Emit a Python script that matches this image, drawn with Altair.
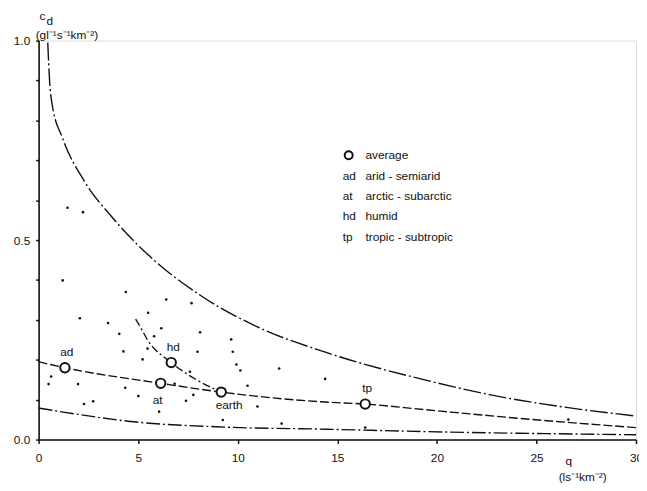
import altair as alt
import pandas as pd

# ---- data ----
upper_q = [0.46, 0.55, 0.68, 1.2, 2.28, 3.68, 5.5, 8.23, 10.96, 14.4, 19.6, 22.7, 26.3, 30.0]
upper_c = [0.995, 0.90, 0.84, 0.756, 0.649, 0.558, 0.463, 0.358, 0.283, 0.219, 0.147, 0.112, 0.082, 0.059]

mid_q = [0.0, 1.32, 6.13, 9.17, 14.4, 16.4, 19.4, 25.1, 30.0]
mid_c = [0.195, 0.180, 0.141, 0.119, 0.094, 0.089, 0.075, 0.049, 0.030]

low_q = [0.0, 2.0, 4.5, 9.5, 14.4, 19.4, 30.0]
low_c = [0.079, 0.063, 0.046, 0.031, 0.026, 0.020, 0.012]

hd_q = [4.87, 5.17, 5.42, 6.66, 7.82, 9.17]
hd_c = [0.302, 0.277, 0.254, 0.193, 0.153, 0.119]

avg_names = ["ad", "at", "hd", "earth", "tp"]
avg_q = [1.32, 6.13, 6.66, 9.17, 16.4]
avg_c = [0.180, 0.141, 0.193, 0.119, 0.089]

dots_q = [1.21, 4.38, 6.41, 7.68, 5.50, 2.07, 3.49, 6.16, 4.05, 5.80, 8.11, 9.67, 5.47, 4.26,
          7.98, 9.75, 5.22, 9.93, 10.13, 12.08, 14.39, 7.60, 0.63, 0.50, 1.98, 4.35, 6.83, 10.49,
          5.01, 7.77, 7.40, 2.74, 2.28, 10.99, 6.05, 9.25, 12.2, 1.45, 2.23, 26.6, 16.4]
dots_c = [0.399, 0.370, 0.351, 0.342, 0.318, 0.304, 0.292, 0.279, 0.265, 0.259, 0.269, 0.251, 0.228, 0.221,
          0.220, 0.220, 0.201, 0.188, 0.173, 0.178, 0.152, 0.170, 0.158, 0.139, 0.139, 0.130, 0.140, 0.135,
          0.109, 0.112, 0.097, 0.096, 0.089, 0.083, 0.070, 0.049, 0.040, 0.581, 0.570, 0.050, 0.030]

legend_codes = ["ad", "at", "hd", "tp"]
legend_names = ["arid - semiarid", "arctic - subarctic", "humid", "tropic - subtropic"]

x_ticks = [0, 5, 10, 15, 20, 25, 30]
y_ticks = [0.0, 0.1, 0.2, 0.3, 0.4, 0.5, 0.6, 0.7, 0.8, 0.9, 1.0]

FONT = "Liberation Sans"
INK = "#111111"

x_enc = alt.X("q:Q", title=None,
              scale=alt.Scale(domain=[0, 30], nice=False, zero=False),
              axis=alt.Axis(values=x_ticks, format="d", grid=False, domainColor=INK, domainWidth=1.6,
                            tickColor=INK, tickWidth=1.5, tickSize=4, labelFontSize=12,
                            labelFont=FONT, labelColor=INK, labelPadding=9, labelFlush=False))
y_enc = alt.Y("c:Q", title=None,
              scale=alt.Scale(domain=[0, 1], nice=False, zero=False),
              axis=alt.Axis(values=y_ticks, grid=False, domainColor=INK, domainWidth=1.6,
                            tickColor=INK, tickWidth=1.5, tickSize=3, labelFontSize=12,
                            labelFont=FONT, labelColor=INK, labelPadding=6,
                            labelExpr="(datum.value == 0 || datum.value == 0.5 || datum.value == 1) ? format(datum.value, '.1f') : ''"))

def curve(qs, cs, dash):
    df = pd.DataFrame({"q": qs, "c": cs, "i": list(range(len(qs)))})
    return alt.Chart(df).mark_line(color=INK, strokeWidth=1.4, strokeDash=dash,
                                   interpolate="monotone").encode(x=x_enc, y=y_enc, order="i:Q")

upper = curve(upper_q, upper_c, [18, 3, 2, 3])
mid = curve(mid_q, mid_c, [9, 3])
low = curve(low_q, low_c, [14, 3, 2, 3])
hdl = curve(hd_q, hd_c, [8, 3, 2, 3])

dots_df = pd.DataFrame({"q": dots_q, "c": dots_c})
dots = alt.Chart(dots_df).mark_circle(color=INK, size=7, opacity=1).encode(x=x_enc, y=y_enc)

avg_df = pd.DataFrame({"name": avg_names, "q": avg_q, "c": avg_c})
avg = alt.Chart(avg_df).mark_point(shape="circle", size=90, filled=True, fill="white",
                                   stroke=INK, strokeWidth=2, opacity=1).encode(x=x_enc, y=y_enc)

def avg_label(names, dx, dy):
    return alt.Chart(avg_df).transform_filter(
        alt.FieldOneOfPredicate(field="name", oneOf=names)
    ).mark_text(font=FONT, fontSize=12, color=INK, dx=dx, dy=dy).encode(x=x_enc, y=y_enc, text="name:N")

lab_above = avg_label(["ad", "hd", "tp"], 2, -16)
lab_at = avg_label(["at"], -3, 17)
lab_earth = avg_label(["earth"], 8, 13)

# legend (top right of plot area)
layers = [upper, mid, low, hdl, dots, avg, lab_above, lab_at, lab_earth]
one = pd.DataFrame({"k": [0]})
layers.append(alt.Chart(one).mark_point(shape="circle", size=65, filled=True, fill="white",
                                        stroke=INK, strokeWidth=2, opacity=1)
              .encode(x=alt.value(314), y=alt.value(116)))
layers.append(alt.Chart(one).mark_text(font=FONT, fontSize=12, color=INK, align="left", baseline="middle")
              .encode(x=alt.value(331), y=alt.value(116), text=alt.value("average")))
for i, (code, name) in enumerate(zip(legend_codes, legend_names)):
    yy = 137 + i * 20.5
    layers.append(alt.Chart(one).mark_text(font=FONT, fontSize=12, color=INK, align="left", baseline="middle")
                  .encode(x=alt.value(308), y=alt.value(yy), text=alt.value(code)))
    layers.append(alt.Chart(one).mark_text(font=FONT, fontSize=12, color=INK, align="left", baseline="middle")
                  .encode(x=alt.value(331), y=alt.value(yy), text=alt.value(name)))

# axis titles
def txt(x, y, s, size=12, align="left"):
    return alt.Chart(one).mark_text(font=FONT, fontSize=size, color=INK, align=align,
                                    baseline="alphabetic").encode(
        x=alt.value(x), y=alt.value(y), text=alt.value(s))

layers += [
    txt(1, -21, "c"),
    txt(8, -16, "d"),
    txt(-3, -2, "(gl⁻¹s⁻¹km⁻²)"),
    txt(537, 430, "q", align="center"),
    txt(551, 446, "(ls⁻¹km⁻²)", align="center"),
]

chart = alt.layer(*layers).properties(
    width=605, height=404,
    autosize=alt.AutoSizeParams(type="none"),
    padding={"left": 31, "top": 30, "right": 3, "bottom": 45},
).configure_view(stroke=None).configure(background="white")

chart.save("out.html", embed_options={"renderer": "svg", "actions": False})
